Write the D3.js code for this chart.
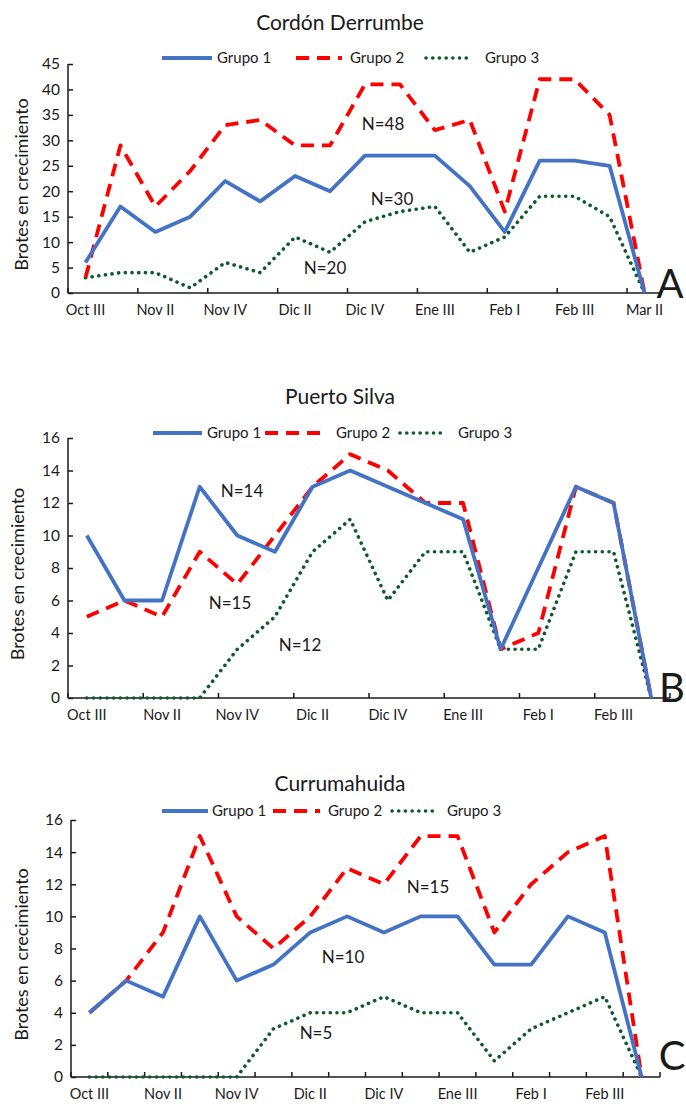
<!DOCTYPE html>
<html>
<head>
<meta charset="utf-8">
<script src="https://cdnjs.cloudflare.com/ajax/libs/d3/7.8.5/d3.min.js"></script>
<style>
  body { margin: 0; background: #fff; }
  svg text { font-family: Lato, "Open Sans", sans-serif; fill: #1a1a1a; }
</style>
</head>
<body>
<svg id="chart" width="686" height="1106"></svg>
<script>
// categories (weeks); only every second one carries a label
const weeksA = ['Oct III', 'Oct IV', 'Nov II', 'Nov III', 'Nov IV', 'Dic I', 'Dic II', 'Dic III',
  'Dic IV', 'Ene II', 'Ene III', 'Ene IV', 'Feb I', 'Feb II', 'Feb III', 'Mar I', 'Mar II'];
const weeksBC = weeksA.slice(0, 16);

const seriesNames = ['Grupo 1', 'Grupo 2', 'Grupo 3'];

// A - Cordón Derrumbe
const cordonG1 = [6, 17, 12, 15, 22, 18, 23, 20, 27, 27, 27, 21, 12, 26, 26, 25, 0];
const cordonG2 = [3, 29, 17, 24, 33, 34, 29, 29, 41, 41, 32, 34, 16, 42, 42, 35, 0];
const cordonG3 = [3, 4, 4, 1, 6, 4, 11, 8, 14, 16, 17, 8, 11, 19, 19, 15, 0];
const cordonTicks = [0, 5, 10, 15, 20, 25, 30, 35, 40, 45];
const cordonN = ['N=30', 'N=48', 'N=20'];

// B - Puerto Silva
const silvaG1 = [10, 6, 6, 13, 10, 9, 13, 14, 13, 12, 11, 3, 8, 13, 12, 0];
const silvaG2 = [5, 6, 5, 9, 7, 10, 13, 15, 14, 12, 12, 3, 4, 13, 12, 0];
const silvaG3 = [0, 0, 0, 0, 3, 5, 9, 11, 6, 9, 9, 3, 3, 9, 9, 0];
const silvaTicks = [0, 2, 4, 6, 8, 10, 12, 14, 16];
const silvaN = ['N=14', 'N=15', 'N=12'];

// C - Currumahuida
const curruG1 = [4, 6, 5, 10, 6, 7, 9, 10, 9, 10, 10, 7, 7, 10, 9, 0];
const curruG2 = [4, 6, 9, 15, 10, 8, 10, 13, 12, 15, 15, 9, 12, 14, 15, 0];
const curruG3 = [0, 0, 0, 0, 0, 3, 4, 4, 5, 4, 4, 1, 3, 4, 5, 0];
const curruTicks = [0, 2, 4, 6, 8, 10, 12, 14, 16];
const curruN = ['N=10', 'N=15', 'N=5'];

const styles = [
  {color: '#4472c4', width: 3.8, dash: null, cap: 'butt'},
  {color: '#ff0000', width: 3.8, dash: '13,8', cap: 'butt'},
  {color: '#0e5a2c', width: 3.6, dash: '0.1,6.6', cap: 'round'}
];

const svg = d3.select('#chart');

function drawPanel(p) {
  const g = svg.append('g');
  const x = d3.scaleBand().domain(p.weeks).range([p.left, p.right]);
  const y = d3.scaleLinear().domain([0, d3.max(p.ticks)]).range([p.bottom, p.top]);

  g.append('text')
      .attr('x', 340).attr('y', p.titleY)
      .attr('text-anchor', 'middle')
      .style('font-size', '21px')
      .text(p.title);

  // legend: [line start, line end, text start]
  const leg = g.append('g');
  p.legendX.forEach((lx, i) => {
    const s = styles[i];
    leg.append('line')
        .attr('x1', lx[0]).attr('x2', lx[1])
        .attr('y1', p.legendY).attr('y2', p.legendY)
        .attr('stroke', s.color).attr('stroke-width', s.width)
        .attr('stroke-dasharray', s.dash).attr('stroke-linecap', s.cap);
    leg.append('text')
        .attr('x', lx[2]).attr('y', p.legendY + 5)
        .style('font-size', '15px')
        .text(seriesNames[i]);
  });

  // y axis
  const yAxis = g.append('g')
      .attr('transform', 'translate(' + p.left + ',0)')
      .call(d3.axisRight(y).tickValues(p.ticks).tickSize(5).tickFormat(d3.format('d')));
  yAxis.select('.domain').attr('d', 'M0,' + p.top + 'V' + p.bottom);
  yAxis.selectAll('text')
      .attr('x', -8).attr('text-anchor', 'end')
      .style('font-size', '15.5px');

  // x axis: labels on every second category, ticks on category edges
  const xAxis = g.append('g')
      .attr('transform', 'translate(0,' + p.bottom + ')')
      .call(d3.axisBottom(x)
        .tickValues(p.weeks.filter((d, i) => i % 2 === 0))
        .tickSize(0).tickPadding(12));
  xAxis.select('.domain').attr('d', 'M' + p.left + ',0H' + p.right);
  xAxis.selectAll('text').style('font-size', '14.5px');
  const edges = p.weeks.map(w => x(w)).concat([p.right])
      .filter((d, i) => i % p.tickEvery === 0);
  g.selectAll('line.xtick').data(edges).enter().append('line')
      .attr('class', 'xtick')
      .attr('x1', d => d).attr('x2', d => d)
      .attr('y1', p.bottom).attr('y2', p.bottom - 5);
  g.selectAll('.domain, .tick line, line.xtick')
      .attr('stroke', '#1a1a1a').attr('stroke-width', 1.5);

  // y axis title
  g.append('text')
      .attr('transform', 'translate(' + p.yLabelX + ',' + ((p.top + p.bottom) / 2 + 6) + ') rotate(-90)')
      .attr('text-anchor', 'middle')
      .style('font-size', '18px')
      .text('Brotes en crecimiento');

  const line = d3.line()
      .x((d, i) => x(p.weeks[i]) + x.bandwidth() / 2)
      .y(d => y(d));

  // draw green first, blue on top like the original
  [2, 1, 0].forEach(i => {
    const s = styles[i];
    g.append('path')
        .datum(p.series[i])
        .attr('d', line)
        .attr('fill', 'none')
        .attr('stroke', s.color).attr('stroke-width', s.width)
        .attr('stroke-dasharray', s.dash).attr('stroke-linecap', s.cap)
        .attr('stroke-linejoin', 'round');
  });

  p.nLabels.forEach((t, i) => {
    g.append('text')
        .attr('x', p.nPos[i][0]).attr('y', p.nPos[i][1])
        .attr('text-anchor', 'middle')
        .style('font-size', '17px')
        .text(t);
  });

  g.append('text')
      .attr('x', p.letterPos[0]).attr('y', p.letterPos[1])
      .attr('text-anchor', 'middle')
      .style('font-size', '40px')
      .text(p.letter);
}

drawPanel({
  title: 'Cordón Derrumbe', titleY: 30, letter: 'A', letterPos: [670, 298],
  weeks: weeksA, series: [cordonG1, cordonG2, cordonG3], ticks: cordonTicks,
  left: 68, right: 662, top: 64, bottom: 293, tickEvery: 2, yLabelX: 28,
  legendY: 58, legendX: [[162, 212, 217], [296, 342, 350], [426, 470, 485]],
  nLabels: cordonN, nPos: [[392, 205], [383, 130], [325, 274]]
});

drawPanel({
  title: 'Puerto Silva', titleY: 404, letter: 'B', letterPos: [672, 702],
  weeks: weeksBC, series: [silvaG1, silvaG2, silvaG3], ticks: silvaTicks,
  left: 68, right: 670, top: 438, bottom: 698, tickEvery: 2, yLabelX: 24,
  legendY: 433, legendX: [[153, 202, 207], [265, 323, 336], [400, 441, 458]],
  nLabels: silvaN, nPos: [[242, 497], [230, 609], [300, 651]]
});

drawPanel({
  title: 'Currumahuida', titleY: 791, letter: 'C', letterPos: [672, 1070],
  weeks: weeksBC, series: [curruG1, curruG2, curruG3], ticks: curruTicks,
  left: 71, right: 660, top: 820, bottom: 1077, tickEvery: 1, yLabelX: 28,
  legendY: 811, legendX: [[162, 208, 212], [273, 320, 328], [392, 437, 447]],
  nLabels: curruN, nPos: [[343, 963], [428, 893], [316, 1039]]
});
</script>
</body>
</html>
